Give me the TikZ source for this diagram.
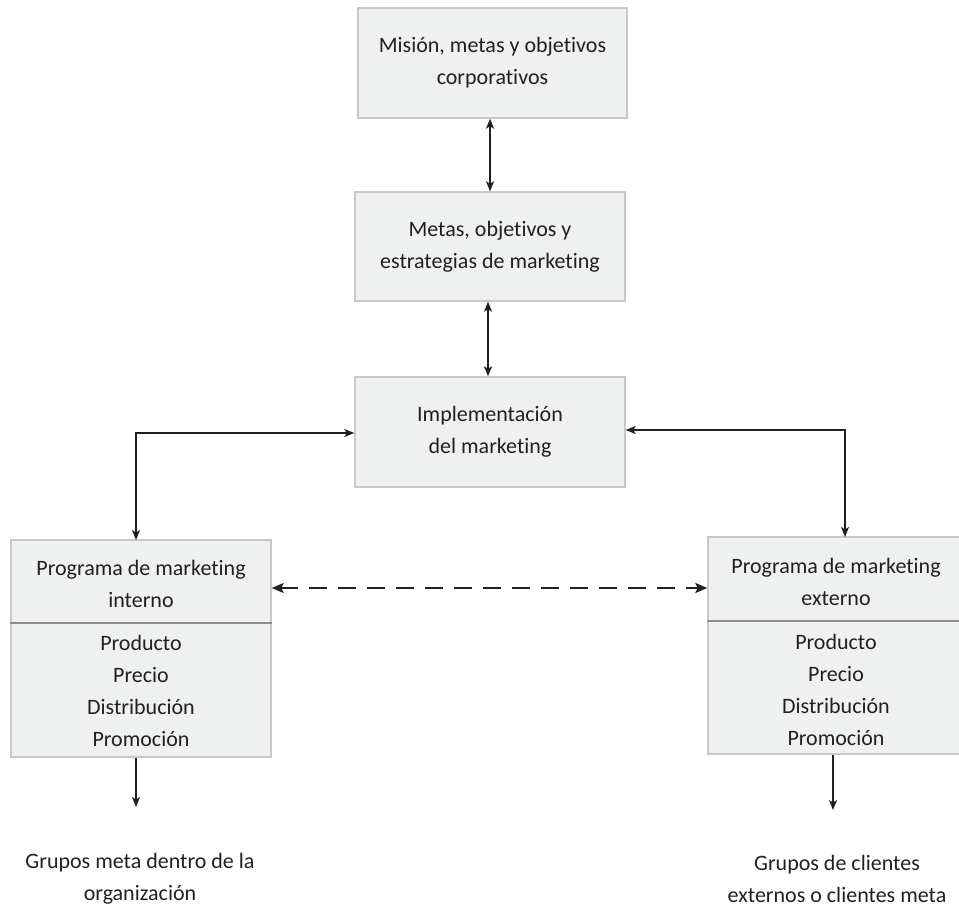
\documentclass[tikz,border=0pt]{standalone}
\usepackage{fontspec}
\setmainfont{Carlito}[Ligatures=NoCommon]
\usetikzlibrary{arrows.meta,calc}

\definecolor{boxfill}{HTML}{EFF0F0}
\definecolor{boxline}{HTML}{C8C8C8}
\definecolor{rulegray}{HTML}{8E8E8E}
\definecolor{ink}{HTML}{231F20}

\tikzset{
  box/.style={draw=boxline, line width=1.4pt, fill=boxfill, rectangle, inner sep=0pt},
  txt/.style={text=ink, align=center, font=\fontsize{22}{32}\selectfont, inner sep=0pt},
  link/.style={draw=ink, line width=1.4pt, {Stealth[length=10pt,width=8pt,inset=2.5pt]}-{Stealth[length=10pt,width=8pt,inset=2.5pt]}},
  outarrow/.style={draw=ink, line width=1.4pt, -{Stealth[length=10pt,width=8pt,inset=2.5pt]}},
  dashlink/.style={draw=ink, line width=2.6pt, dash pattern=on 18pt off 11pt,
    {Stealth[length=12pt,width=10pt,inset=2.5pt]}-{Stealth[length=12pt,width=10pt,inset=2.5pt]}},
}

\begin{document}
\begin{tikzpicture}[x=1pt, y=-1pt]
\useasboundingbox (0,0) rectangle (959,907);

% top three stages
\node[box, minimum width=269pt, minimum height=110pt] (mision) at (492.5,63) {};
\node[txt] (misiontxt) at (mision.center) {Misión, metas y objetivos\\corporativos};

\node[box, minimum width=270pt, minimum height=109pt] (metas) at (490,246.5) {};
\node[txt] (metastxt) at (metas.center) {Metas, objetivos y\\estrategias de marketing};

\node[box, minimum width=270pt, minimum height=110pt] (impl) at (490,432) {};
\node[txt] (impltxt) at (impl.center) {Implementación\\del marketing};

% internal programme
\node[box, minimum width=260pt, minimum height=217pt] (interno) at (141,648.5) {};
\draw[rulegray, line width=1.2pt] (interno.west |- 0,623) -- (interno.east |- 0,623);
\node[txt] (internohead) at (141,584) {Programa de marketing\\interno};
\node[txt] (internomix) at (141,690.5) {Producto\\Precio\\Distribución\\Promoción};

% external programme
\node[box, minimum width=256pt, minimum height=217pt] (externo) at (836,645.5) {};
\draw[rulegray, line width=1.2pt] (externo.west |- 0,621) -- (externo.east |- 0,621);
\node[txt] (externohead) at (836,582) {Programa de marketing\\externo};
\node[txt] (externomix) at (836,690) {Producto\\Precio\\Distribución\\Promoción};

% target groups
\node[txt] (gint) at (140,879) {Grupos meta dentro de la\\organización};
\node[txt] (gext) at (837,879) {Grupos de clientes\\externos o clientes meta};

% connectors
\draw[link] (mision.south -| 490,0) -- (metas.north -| 490,0);
\draw[link] (metas.south -| 488,0) -- (impl.north -| 488,0);

\coordinate (lturn) at (136,540);
\coordinate (rturn) at (845,537);
\draw[link] (impl.west |- 0,433) -| (lturn);
\draw[link] (impl.east |- 0,430) -| (rturn);

\coordinate (dashy) at (490,588);
\draw[dashlink] (interno.east |- dashy) -- (externo.west |- dashy);

\coordinate (lend) at (136,807);
\coordinate (rend) at (833,810);
\draw[outarrow] (interno.south -| lend) -- (lend);
\draw[outarrow] (externo.south -| rend) -- (rend);
\end{tikzpicture}
\end{document}
